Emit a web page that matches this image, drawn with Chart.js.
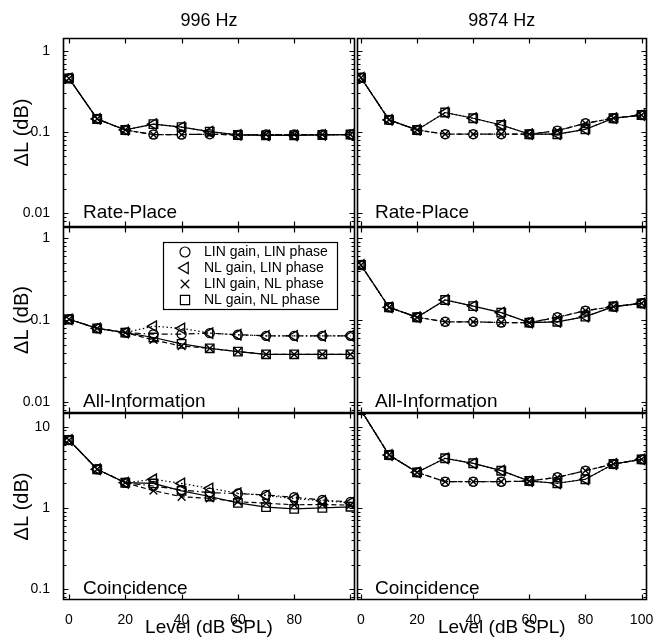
<!DOCTYPE html>
<html>
<head>
<meta charset="utf-8">
<title>Level discrimination</title>
<script src="https://cdn.jsdelivr.net/npm/chart.js@4.4.1/dist/chart.umd.min.js"></script>
<style>
  html, body { margin: 0; padding: 0; background: #fff; }
  #wrap { position: relative; width: 654px; height: 642px; }
  #wrap canvas { position: absolute; left: 0; top: 0; }
</style>
</head>
<body>
<div id="wrap">
  <canvas id="p00" width="654" height="642"></canvas>
  <canvas id="p01" width="654" height="642"></canvas>
  <canvas id="p10" width="654" height="642"></canvas>
  <canvas id="p11" width="654" height="642"></canvas>
  <canvas id="p20" width="654" height="642"></canvas>
  <canvas id="p21" width="654" height="642"></canvas>
</div>
<script>
// ── Datos ────────────────────────────────────────────────────────────────────
var levels       = [0, 10, 20, 30, 40, 50, 60, 70, 80, 90, 100];
var xTickValues  = [0, 20, 40, 60, 80, 100];
var freqTitles   = ['996 Hz', '9874 Hz'];
var modelNames   = ['Rate-Place', 'All-Information', 'Coincidence'];
var seriesNames  = ['LIN gain, LIN phase', 'NL gain, LIN phase', 'LIN gain, NL phase', 'NL gain, NL phase'];
var yDecadesRP   = [0.01, 0.1, 1];
var yDecadesAI   = [0.01, 0.1, 1];
var yDecadesCO   = [0.1, 1, 10];

// Rate-Place
var rp996LinLin  = [0.46, 0.145, 0.106, 0.093, 0.093, 0.094, 0.092, 0.093, 0.093, 0.093, 0.093];
var rp996NlLin   = [0.46, 0.145, 0.106, 0.125, 0.115, 0.101, 0.092, 0.091, 0.091, 0.092, 0.093];
var rp996LinNl   = [0.46, 0.145, 0.106, 0.093, 0.093, 0.094, 0.092, 0.093, 0.093, 0.093, 0.093];
var rp996NlNl    = [0.46, 0.145, 0.106, 0.125, 0.115, 0.101, 0.092, 0.091, 0.091, 0.092, 0.093];
var rp9874LinLin = [0.468, 0.141, 0.106, 0.094, 0.094, 0.094, 0.094, 0.104, 0.128, 0.148, 0.162];
var rp9874NlLin  = [0.468, 0.141, 0.106, 0.174, 0.148, 0.122, 0.094, 0.094, 0.108, 0.148, 0.162];
var rp9874LinNl  = [0.468, 0.141, 0.106, 0.094, 0.094, 0.094, 0.094, 0.104, 0.128, 0.148, 0.162];
var rp9874NlNl   = [0.468, 0.141, 0.106, 0.174, 0.148, 0.122, 0.094, 0.094, 0.108, 0.148, 0.162];

// All-Information
var ai996LinLin  = [0.102, 0.079, 0.070, 0.067, 0.067, 0.069, 0.066, 0.064, 0.064, 0.064, 0.064];
var ai996NlLin   = [0.102, 0.079, 0.070, 0.084, 0.079, 0.069, 0.066, 0.064, 0.064, 0.064, 0.064];
var ai996LinNl   = [0.102, 0.079, 0.070, 0.057, 0.048, 0.045, 0.041, 0.038, 0.038, 0.038, 0.038];
var ai996NlNl    = [0.102, 0.079, 0.070, 0.061, 0.051, 0.045, 0.041, 0.038, 0.038, 0.038, 0.038];
var ai9874LinLin = [0.471, 0.143, 0.108, 0.095, 0.095, 0.093, 0.093, 0.108, 0.130, 0.146, 0.160];
var ai9874NlLin  = [0.471, 0.143, 0.108, 0.176, 0.148, 0.123, 0.093, 0.095, 0.110, 0.146, 0.160];
var ai9874LinNl  = [0.471, 0.143, 0.108, 0.095, 0.095, 0.093, 0.093, 0.108, 0.130, 0.146, 0.160];
var ai9874NlNl   = [0.471, 0.143, 0.108, 0.176, 0.148, 0.123, 0.093, 0.095, 0.110, 0.146, 0.160];

// Coincidence
var co996LinLin  = [6.85, 2.99, 2.04, 1.86, 1.66, 1.54, 1.50, 1.44, 1.35, 1.25, 1.18];
var co996NlLin   = [6.85, 2.99, 2.04, 2.25, 2.00, 1.74, 1.52, 1.42, 1.30, 1.22, 1.16];
var co996LinNl   = [6.85, 2.99, 2.04, 1.63, 1.37, 1.31, 1.19, 1.14, 1.09, 1.10, 1.08];
var co996NlNl    = [6.85, 2.99, 2.04, 2.00, 1.62, 1.38, 1.15, 1.02, 0.97, 1.00, 1.03];
var co9874LinLin = [16.0, 4.48, 2.74, 2.10, 2.10, 2.10, 2.14, 2.38, 2.87, 3.47, 3.96];
var co9874NlLin  = [16.0, 4.48, 2.74, 4.08, 3.54, 2.87, 2.14, 2.01, 2.25, 3.47, 3.96];
var co9874LinNl  = [16.0, 4.48, 2.74, 2.10, 2.10, 2.10, 2.14, 2.38, 2.87, 3.47, 3.96];
var co9874NlNl   = [16.0, 4.48, 2.74, 4.08, 3.54, 2.87, 2.14, 2.01, 2.25, 3.47, 3.96];

var panelSeries = [
    [[rp996LinLin, rp996NlLin, rp996LinNl, rp996NlNl], [rp9874LinLin, rp9874NlLin, rp9874LinNl, rp9874NlNl]],
    [[ai996LinLin, ai996NlLin, ai996LinNl, ai996NlNl], [ai9874LinLin, ai9874NlLin, ai9874LinNl, ai9874NlNl]],
    [[co996LinLin, co996NlLin, co996LinNl, co996NlNl], [co9874LinLin, co9874NlLin, co9874LinNl, co9874NlNl]]
];
var rowDecades = [yDecadesRP, yDecadesAI, yDecadesCO];

// ── Estilo / geometría ──────────────────────────────────────────────────────
var markerStyles   = ['circle', 'triangle', 'crossRot', 'rect'];
var markerRotation = [0, -90, 0, 0];
var markerRadius   = [4.5, 6, 5.5, 6];
var lineDash       = [[6, 3, 1.5, 3], [1.5, 2.5], [5, 3], []];

var colLeft  = [63, 357],     colRight = [355, 648];
var rowTop   = [38, 227, 413], rowBottom = [227, 413, 600];
var colXMin  = [-2.13, -1.42], colXMax = [101.6, 101.8];
var rowYMin  = [0.00672, 0.00727, 0.0732], rowYMax = [1.447, 1.375, 14.75];

var FONT = '"Liberation Sans", Arial, Helvetica, sans-serif';
Chart.defaults.font.family = FONT;
Chart.defaults.color = '#000';
Chart.defaults.animation = false;

// ── Marco con marcas hacia dentro + etiqueta del modelo ─────────────────────
var framePlugin = {
    id: 'frame',
    afterDatasetsDraw: function (chart, args, opts) {
        var ctx = chart.ctx, a = chart.chartArea;
        var xs = chart.scales.x, ys = chart.scales.y;
        var L = Math.round(a.left) + 0.5, R = Math.round(a.right) - 0.5;
        var T = Math.round(a.top) + 0.5, B = Math.round(a.bottom) - 0.5;
        ctx.save();
        ctx.strokeStyle = '#000';
        ctx.lineWidth = 1.6;
        ctx.beginPath();
        ctx.rect(L, T, R - L, B - T);
        ctx.stroke();
        ctx.lineWidth = 1.2;
        ctx.beginPath();
        xTickValues.forEach(function (v) {
            var px = Math.round(xs.getPixelForValue(v)) + 0.5;
            ctx.moveTo(px, B); ctx.lineTo(px, B - 5);
            ctx.moveTo(px, T); ctx.lineTo(px, T + 5);
        });
        var dec = opts.decades;
        for (var e = Math.log10(dec[0]) - 1; e <= Math.log10(dec[dec.length - 1]) + 1; e++) {
            for (var k = 1; k <= 9; k++) {
                var v = k * Math.pow(10, e);
                if (v < ys.min || v > ys.max) continue;
                var py = Math.round(ys.getPixelForValue(v)) + 0.5;
                var len = k === 1 ? 5 : 3;
                ctx.moveTo(L, py); ctx.lineTo(L + len, py);
                ctx.moveTo(R, py); ctx.lineTo(R - len, py);
            }
        }
        ctx.stroke();
        ctx.fillStyle = '#000';
        ctx.font = '19px ' + FONT;
        ctx.textAlign = 'left';
        ctx.textBaseline = 'middle';
        ctx.fillText(opts.label, xs.getPixelForValue(5), ys.getPixelForValue(dec[0]));
        ctx.restore();
    }
};

// ── Leyenda en recuadro ─────────────────────────────────────────────────────
var boxLegendPlugin = {
    id: 'boxLegend',
    afterDraw: function (chart, args, opts) {
        if (!opts.show) return;
        var ctx = chart.ctx, a = chart.chartArea;
        var x0 = Math.round(a.left + opts.left), y0 = Math.round(a.top + opts.top);
        ctx.save();
        ctx.fillStyle = '#fff';
        ctx.fillRect(x0, y0, opts.width, opts.height);
        ctx.strokeStyle = '#000';
        ctx.lineWidth = 1.2;
        ctx.strokeRect(x0 + 0.5, y0 + 0.5, opts.width, opts.height);
        chart.data.datasets.forEach(function (ds, k) {
            var cy = y0 + opts.firstRow + k * opts.rowGap;
            ctx.fillStyle = 'rgba(0,0,0,0)';
            ctx.strokeStyle = '#000';
            ctx.lineWidth = 1.2;
            Chart.helpers.drawPoint(ctx, {
                pointStyle: ds.pointStyle, rotation: ds.pointRotation,
                radius: ds.pointRadius + 0.5, borderWidth: 1.2
            }, x0 + opts.markerX, cy);
            ctx.fillStyle = '#000';
            ctx.font = '14px ' + FONT;
            ctx.textAlign = 'left';
            ctx.textBaseline = 'middle';
            ctx.fillText(ds.label, x0 + opts.textX, cy);
        });
        ctx.restore();
    }
};

function makePanel(row, col) {
    var series  = panelSeries[row][col];
    var decades = rowDecades[row];

    var datasets = series.map(function (vals, k) {
        return {
            label: seriesNames[k],
            data: levels.map(function (lv, i) { return { x: lv, y: vals[i] }; }),
            borderColor: '#000',
            borderWidth: 1.2,
            borderDash: lineDash[k],
            backgroundColor: 'rgba(0,0,0,0)',
            fill: false,
            tension: 0,
            pointStyle: markerStyles[k],
            pointRotation: markerRotation[k],
            pointRadius: markerRadius[k],
            pointBorderWidth: 1.4,
            pointBorderColor: '#000',
            pointBackgroundColor: 'rgba(0,0,0,0)'
        };
    });

    return new Chart(document.getElementById('p' + row + col), {
        type: 'line',
        data: { datasets: datasets },
        plugins: [framePlugin, boxLegendPlugin],
        options: {
            responsive: false,
            animation: false,
            events: [],
            layout: {
                padding: {
                    left:   col === 0 ? 0 : colLeft[col],
                    right:  654 - colRight[col],
                    top:    row === 0 ? 0 : rowTop[row],
                    bottom: row === 2 ? 0 : 642 - rowBottom[row]
                }
            },
            plugins: {
                legend: { display: false },
                tooltip: { enabled: false },
                title: {
                    display: row === 0,
                    text: freqTitles[col],
                    fullSize: false,
                    color: '#000',
                    font: { size: 18, weight: 'normal' },
                    padding: { top: 10.2, bottom: 6.2 }
                },
                frame: { label: modelNames[row], decades: decades },
                boxLegend: {
                    show: row === 1 && col === 0,
                    left: 100, top: 15, width: 174, height: 67,
                    markerX: 22, textX: 41, firstRow: 10, rowGap: 16
                }
            },
            scales: {
                x: {
                    type: 'linear',
                    min: colXMin[col],
                    max: colXMax[col],
                    grid: { display: false },
                    border: { display: false },
                    ticks: {
                        display: row === 2,
                        autoSkip: false,
                        maxRotation: 0,
                        padding: 4,
                        font: { size: 14 },
                        callback: function (v) { return String(v); }
                    },
                    afterBuildTicks: function (s) {
                        s.ticks = xTickValues
                            .filter(function (v) { return col === 1 || v < 100; })
                            .map(function (v) { return { value: v }; });
                    },
                    afterFit: function (s) {
                        s.height = row === 2 ? 42 : 0;
                        s.paddingLeft = 0;
                        s.paddingRight = 0;
                    },
                    title: {
                        display: row === 2,
                        text: 'Level (dB SPL)',
                        font: { size: 19 },
                        padding: { top: 0, bottom: 2.5 }
                    }
                },
                y: {
                    type: 'logarithmic',
                    min: rowYMin[row],
                    max: rowYMax[row],
                    grid: { display: false },
                    border: { display: false },
                    ticks: {
                        display: col === 0,
                        padding: 5,
                        font: { size: 14 },
                        callback: function (v) { return String(v); }
                    },
                    afterBuildTicks: function (s) {
                        s.ticks = decades.map(function (v) { return { value: v }; });
                    },
                    afterFit: function (s) {
                        s.width = col === 0 ? 63 : 0;
                        s.paddingTop = 0;
                        s.paddingBottom = 0;
                    },
                    title: {
                        display: col === 0,
                        text: '\u0394L (dB)',
                        font: { size: 20 },
                        padding: { top: 10, bottom: 0 }
                    }
                }
            }
        }
    });
}

(function init() {
    for (var r = 0; r < 3; r++) {
        for (var c = 0; c < 2; c++) makePanel(r, c);
    }
})();
</script>
</body>
</html>
